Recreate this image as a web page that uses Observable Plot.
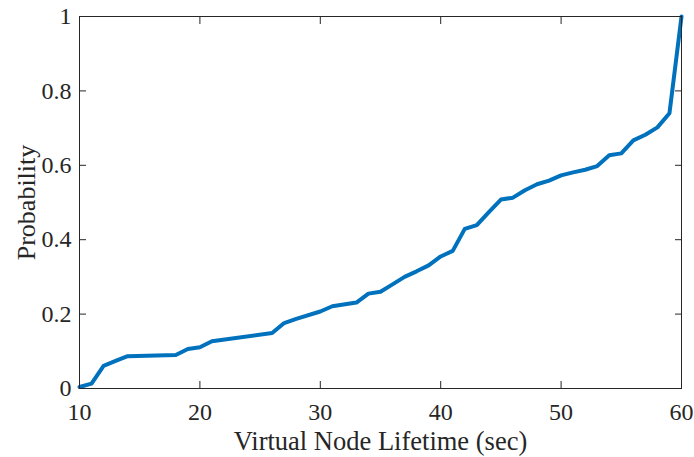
<!DOCTYPE html>
<html>
<head>
<meta charset="utf-8">
<script src="https://cdn.jsdelivr.net/npm/d3@7"></script>
<script src="https://cdn.jsdelivr.net/npm/@observablehq/plot@0.6"></script>
<style>
  html, body { margin: 0; padding: 0; background: #fff; }
  #chart svg { display: block; }
</style>
</head>
<body>
<div id="chart"></div>
<script>
// Empirical CDF of virtual node lifetime
const lifetime = [10, 11, 12, 13, 14, 18, 19, 20, 21, 26, 27, 28, 30, 31, 33, 34, 35, 36, 37, 38, 39, 40,
                  41, 42, 43, 44, 45, 46, 47, 48, 49, 50, 51, 52, 53, 54, 55, 56, 57, 58, 59, 60];
const probability = [0.004, 0.013, 0.061, 0.074, 0.087, 0.090, 0.106, 0.111, 0.127, 0.149, 0.176, 0.187, 0.207, 0.221, 0.231, 0.255, 0.260, 0.280, 0.300, 0.315, 0.331, 0.355,
                     0.370, 0.429, 0.439, 0.474, 0.508, 0.513, 0.533, 0.549, 0.559, 0.573, 0.581, 0.588, 0.598, 0.627, 0.632, 0.667, 0.682, 0.702, 0.740, 1.0];

const xTicks = [10, 20, 30, 40, 50, 60];
const xTickLabels = ["10", "20", "30", "40", "50", "60"];
const yTicks = [0, 0.2, 0.4, 0.6, 0.8, 1];
const yTickLabels = ["0", "0.2", "0.4", "0.6", "0.8", "1"];

const xLabel = "Virtual Node Lifetime (sec)";
const yLabel = "Probability";

const data = lifetime.map((x, i) => ({x, y: probability[i]}));

const ink = "#262626";
const serif = "'Liberation Serif', 'Times New Roman', serif";
const tickLen = -7; // inward ticks on all four sides
const noText = () => "";

const chart = Plot.plot({
  width: 694,
  height: 457,
  marginTop: 16,
  marginLeft: 79,
  marginRight: 13,
  marginBottom: 69,
  style: {fontFamily: serif, color: ink, background: "#fff"},
  x: {domain: [10, 60]},
  y: {domain: [0, 1]},
  marks: [
    Plot.line(data, {x: "x", y: "y", stroke: "#0072BD", strokeWidth: 4, strokeLinejoin: "round"}),
    Plot.frame({stroke: ink, strokeWidth: 1}),
    // tick marks
    Plot.axisX(xTicks, {anchor: "bottom", tickSize: tickLen, tickFormat: noText, stroke: ink, label: null}),
    Plot.axisX(xTicks, {anchor: "top", tickSize: tickLen, tickFormat: noText, stroke: ink, label: null}),
    Plot.axisY(yTicks, {anchor: "left", tickSize: tickLen, tickFormat: noText, stroke: ink, label: null}),
    Plot.axisY(yTicks, {anchor: "right", tickSize: tickLen, tickFormat: noText, stroke: ink, label: null}),
    // tick labels
    Plot.text(xTicks, {x: (d) => d, text: (d, i) => xTickLabels[i], frameAnchor: "bottom", dy: 31,
                       lineAnchor: "bottom", textAnchor: "middle", fontSize: 24, fontFamily: serif, fill: ink}),
    Plot.text(yTicks, {y: (d) => d, text: (d, i) => yTickLabels[i], frameAnchor: "left", dx: -8,
                       lineAnchor: "middle", textAnchor: "end", fontSize: 24, fontFamily: serif, fill: ink}),
    // axis titles
    Plot.text([xLabel], {text: (d) => d, frameAnchor: "bottom", dy: 61, lineAnchor: "bottom",
                         textAnchor: "middle", fontSize: 26.5, fontFamily: serif, fill: ink}),
    Plot.text([yLabel], {text: (d) => d, frameAnchor: "left", dx: -45, rotate: -90, textAnchor: "middle",
                         lineAnchor: "bottom", fontSize: 26, fontFamily: serif, fill: ink})
  ]
});

document.getElementById("chart").appendChild(chart);
</script>
</body>
</html>
